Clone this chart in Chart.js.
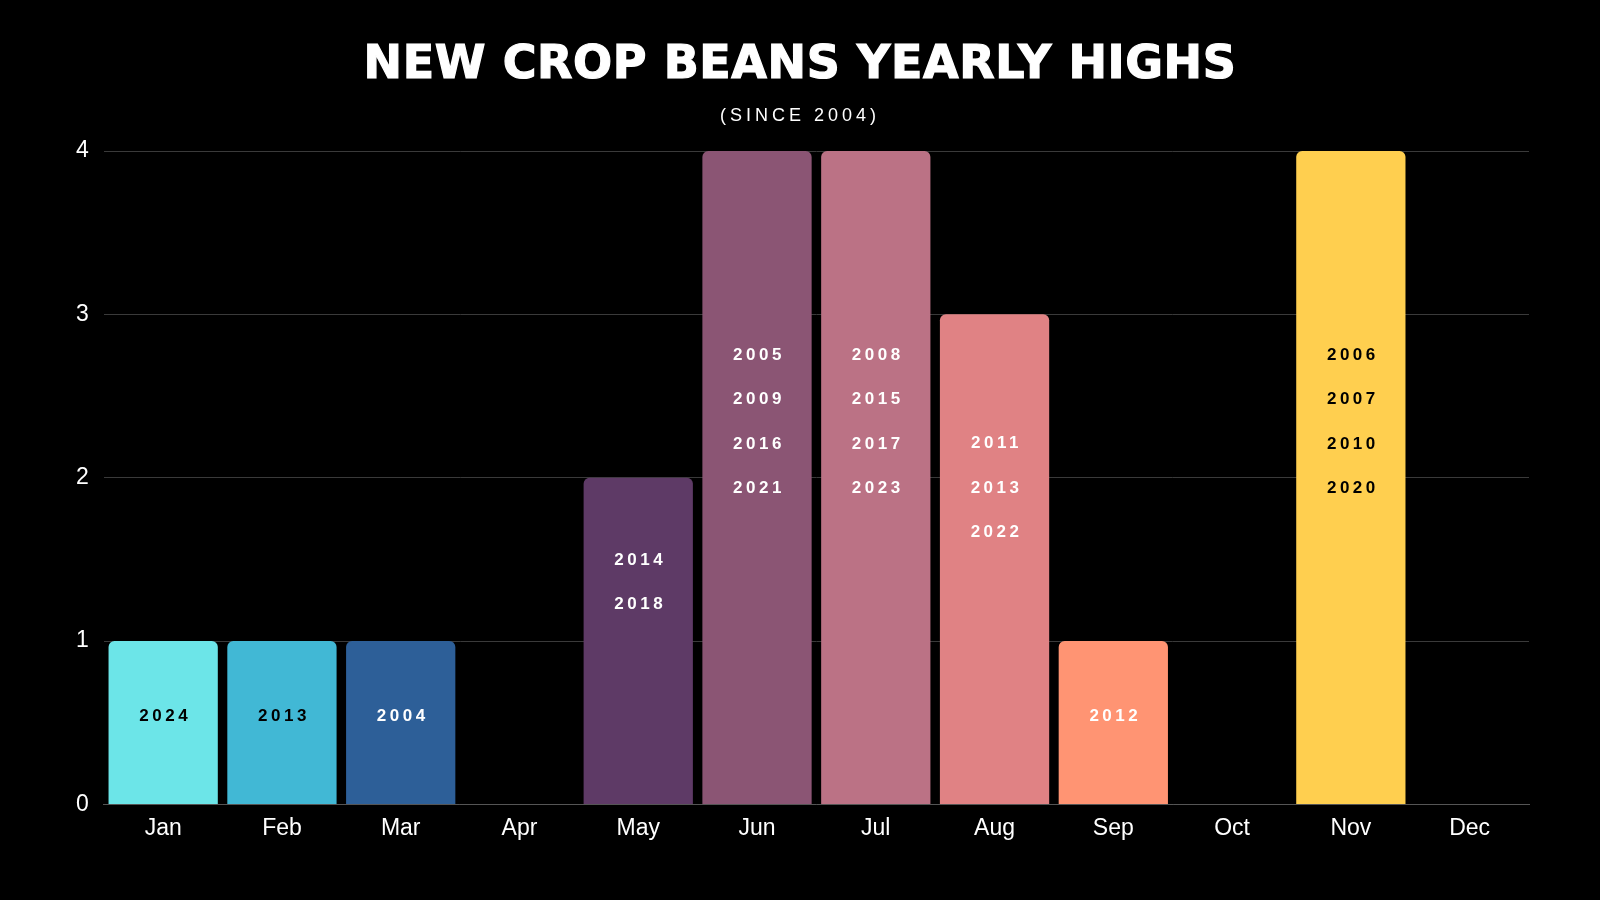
<!DOCTYPE html>
<html>
<head>
<meta charset="utf-8">
<script src="https://cdn.jsdelivr.net/npm/chart.js@4.4.1/dist/chart.umd.min.js"></script>
<style>
  html, body { margin: 0; padding: 0; background: #000; }
  .wrap { position: relative; width: 1600px; height: 900px; background: #000; }
  .title {
    position: absolute; left: 0; right: 0; top: 34px; margin: 0;
    text-align: center; color: #fff;
    font-family: "DejaVu Sans", sans-serif; font-weight: bold; font-size: 46px;
    letter-spacing: 0.6px; line-height: 56px;
    -webkit-text-stroke: 1.2px #fff;
  }
  .subtitle {
    position: absolute; left: 0; right: 0; top: 104px;
    text-align: center; color: #fff;
    font-family: "Liberation Sans", sans-serif; font-size: 18px;
    letter-spacing: 4px; line-height: 22px;
  }
  canvas { position: absolute; left: 0; top: 0; }
</style>
</head>
<body>
<div class="wrap">
  <canvas id="chart" width="1600" height="900"></canvas>
  <h1 class="title">NEW CROP BEANS YEARLY HIGHS</h1>
  <div class="subtitle">(SINCE 2004)</div>
</div>
<script>
// months on the x axis
const months = ["Jan", "Feb", "Mar", "Apr", "May", "Jun", "Jul", "Aug", "Sep", "Oct", "Nov", "Dec"];
// number of yearly highs in each month
const highCounts = [1, 1, 1, 0, 2, 4, 4, 3, 1, 0, 4, 0];
// years written inside each bar
const highYears = [
  ["2024"],
  ["2013"],
  ["2004"],
  [],
  ["2014", "2018"],
  ["2005", "2009", "2016", "2021"],
  ["2008", "2015", "2017", "2023"],
  ["2011", "2013", "2022"],
  ["2012"],
  [],
  ["2006", "2007", "2010", "2020"],
  []
];
const yTicks = [0, 1, 2, 3, 4];

const barColors = ["#6ce5e8", "#41b8d5", "#2d5f98", "#000000", "#5e3a66", "#8b5574",
                   "#bb7285", "#e08284", "#ff9473", "#000000", "#ffcf4f", "#000000"];
const labelColors = ["#000", "#000", "#fff", "#fff", "#fff", "#fff",
                     "#fff", "#fff", "#fff", "#fff", "#000", "#000"];

// 줄 수에 따라 막대 안 텍스트 위치 (막대 높이 대비 비율)
const blockPos = { 1: 0.46, 2: 0.32, 3: 0.355, 4: 0.415 };

// 막대 안쪽 연도 텍스트
const yearLabelPlugin = {
  id: "yearLabels",
  afterDatasetsDraw(chart) {
    const ctx = chart.ctx;
    const meta = chart.getDatasetMeta(0);
    ctx.save();
    ctx.font = "bold 17px 'Liberation Sans', sans-serif";
    if ("letterSpacing" in ctx) ctx.letterSpacing = "3.5px";
    ctx.textAlign = "center";
    ctx.textBaseline = "middle";
    const lineGap = 44.4;
    meta.data.forEach((bar, i) => {
      const lines = highYears[i];
      if (!lines.length) return;
      const h = bar.base - bar.y;
      const center = bar.y + h * blockPos[lines.length];
      const start = center - (lines.length - 1) * lineGap / 2;
      ctx.fillStyle = labelColors[i];
      lines.forEach((t, k) => {
        ctx.fillText(t, bar.x + 2, start + k * lineGap);
      });
    });
    ctx.restore();
  }
};

new Chart(document.getElementById("chart"), {
  type: "bar",
  data: {
    labels: months,
    datasets: [{
      data: highCounts,
      backgroundColor: barColors,
      borderWidth: 0,
      borderRadius: { topLeft: 6, topRight: 6, bottomLeft: 0, bottomRight: 0 },
      borderSkipped: "start",
      barPercentage: 0.92,
      categoryPercentage: 1
    }]
  },
  options: {
    responsive: false,
    animation: false,
    devicePixelRatio: 1,
    layout: { padding: { top: 151, left: 61, right: 71, bottom: 48 } },
    plugins: {
      legend: { display: false },
      tooltip: { enabled: false }
    },
    scales: {
      x: {
        grid: { display: false, drawTicks: false },
        border: { color: "#555", width: 1 },
        ticks: {
          color: "#fff", padding: 10,
          font: { family: "'Liberation Sans', sans-serif", size: 23 }
        }
      },
      y: {
        min: 0, max: 4,
        afterBuildTicks: axis => { axis.ticks = yTicks.map(v => ({ value: v })); },
        grid: { color: "#3a3a3a", lineWidth: 1, drawTicks: false },
        border: { display: false },
        ticks: {
          color: "#fff", padding: 15,
          font: { family: "'Liberation Sans', sans-serif", size: 23 }
        }
      }
    }
  },
  plugins: [yearLabelPlugin]
});
</script>
</body>
</html>
